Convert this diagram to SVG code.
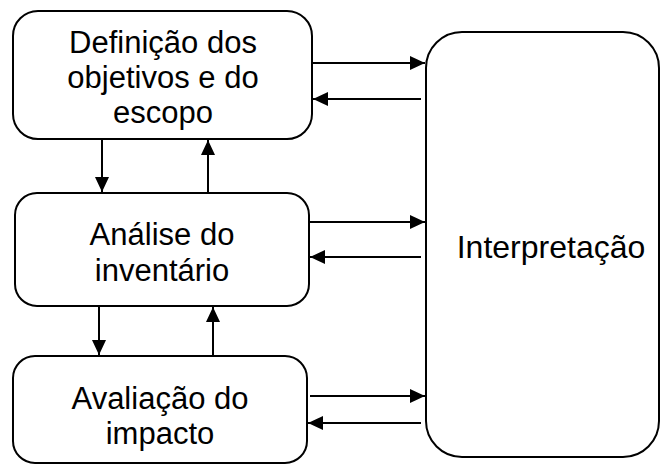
<svg xmlns="http://www.w3.org/2000/svg" width="661" height="464" viewBox="0 0 661 464">
<defs>
<style>
.box{fill:#fff;stroke:#000;stroke-width:2}
.lbl{font-family:"Liberation Sans",Arial,sans-serif;font-size:31px;fill:#000;text-anchor:middle}
.big{font-size:32px}
.conn{stroke:#000;stroke-width:2;fill:none;marker-end:url(#ah)}
</style>
<marker id="ah" markerUnits="userSpaceOnUse" markerWidth="15" markerHeight="14" refX="15" refY="7" orient="auto">
<path d="M0,0 L15,7 L0,14 Z" fill="#000"/>
</marker>
</defs>
<rect width="661" height="464" fill="#fff"/>
<g id="def">
<rect class="box" x="13" y="11" width="299" height="128" rx="25" ry="25"/>
<text class="lbl" x="163" y="53">Definição dos</text>
<text class="lbl" x="163" y="88">objetivos e do</text>
<text class="lbl" x="163" y="123">escopo</text>
</g>
<g id="inv">
<rect class="box" x="15" y="193" width="294" height="113" rx="22" ry="22"/>
<text class="lbl" x="162" y="245">Análise do</text>
<text class="lbl" x="162" y="281">inventário</text>
</g>
<g id="aval">
<rect class="box" x="13" y="356" width="294" height="107" rx="22" ry="22"/>
<text class="lbl" x="160" y="409">Avaliação do</text>
<text class="lbl" x="160" y="444">impacto</text>
</g>
<g id="interp">
<rect class="box" x="426" y="32" width="233" height="425" rx="36" ry="36"/>
<text class="lbl big" x="551" y="258">Interpretação</text>
</g>
<g id="connectors">
<line class="conn" x1="312" y1="63" x2="425" y2="63"/>
<line class="conn" x1="421" y1="99" x2="313" y2="99"/>
<line class="conn" x1="309" y1="222" x2="425" y2="222"/>
<line class="conn" x1="421" y1="257" x2="310" y2="257"/>
<line class="conn" x1="310" y1="396" x2="425" y2="396"/>
<line class="conn" x1="421" y1="423" x2="308" y2="423"/>
<line class="conn" x1="102" y1="139" x2="102" y2="192"/>
<line class="conn" x1="208" y1="192" x2="208" y2="140"/>
<line class="conn" x1="99" y1="306" x2="99" y2="355"/>
<line class="conn" x1="213" y1="356" x2="213" y2="307"/>
</g>
</svg>
